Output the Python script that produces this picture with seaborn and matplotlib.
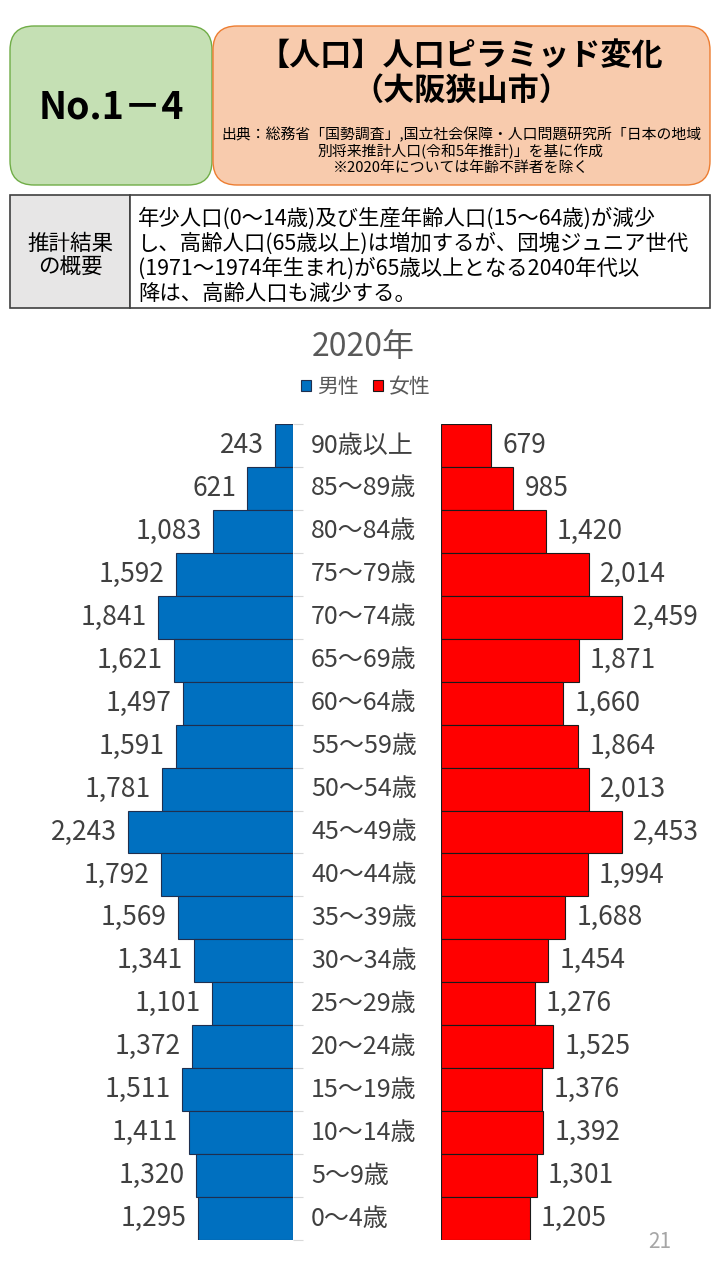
import matplotlib
matplotlib.use("Agg")
from matplotlib import pyplot as plt
from matplotlib import transforms
from matplotlib.patches import FancyBboxPatch, Rectangle, Patch
import numpy as np
import pandas as pd
import seaborn as sns

# 2020年 人口ピラミッド (大阪狭山市), 上から高齢順
ages = ["90歳以上", "85～89歳", "80～84歳", "75～79歳", "70～74歳", "65～69歳",
        "60～64歳", "55～59歳", "50～54歳", "45～49歳", "40～44歳", "35～39歳",
        "30～34歳", "25～29歳", "20～24歳", "15～19歳", "10～14歳", "5～9歳", "0～4歳"]
male = [243, 621, 1083, 1592, 1841, 1621, 1497, 1591, 1781, 2243,
        1792, 1569, 1341, 1101, 1372, 1511, 1411, 1320, 1295]
female = [679, 985, 1420, 2014, 2459, 1871, 1660, 1864, 2013, 2453,
          1994, 1688, 1454, 1276, 1525, 1376, 1392, 1301, 1205]

title = "2020年"
summary = ("年少人口(0～14歳)及び生産年齢人口(15～64歳)が減少\n"
           "し、高齢人口(65歳以上)は増加するが、団塊ジュニア世代\n"
           "(1971～1974年生まれ)が65歳以上となる2040年代以\n"
           "降は、高齢人口も減少する。")
source = ("出典：総務省「国勢調査」,国立社会保障・人口問題研究所「日本の地域\n"
          "別将来推計人口(令和5年推計)」を基に作成\n"
          "※2020年については年齢不詳者を除く")

BLUE = "#0070c0"
RED = "#ff0000"
GREY = "#404040"

sns.set_style("white")
plt.rcParams["font.family"] = ["Noto Sans CJK JP", "DejaVu Sans"]

df = pd.DataFrame({"age": ages, "male": male, "female": female})

W, H = 720, 1280
fig = plt.figure(figsize=(W / 100, H / 100), dpi=100)

# header / table layer in pixel coordinates
bg = fig.add_axes([0, 0, 1, 1])
bg.set_xlim(0, W)
bg.set_ylim(H, 0)
bg.axis("off")

bg.add_patch(FancyBboxPatch((10, 26), 202, 159, boxstyle="round,pad=0,rounding_size=24",
                            fc="#c5e0b4", ec="#70ad47", lw=1))
bg.add_patch(FancyBboxPatch((213, 26), 497, 159, boxstyle="round,pad=0,rounding_size=24",
                            fc="#f8cbad", ec="#ed7d31", lw=1))
bg.text(111, 107, "No.1－4", ha="center", va="center", fontsize=27, fontweight="bold", color="black")
bg.text(461, 56, "【人口】人口ピラミッド変化", ha="center", va="center", fontsize=22.4,
        fontweight="bold", color="black")
bg.text(461, 91, "（大阪狭山市）", ha="center", va="center", fontsize=22.4,
        fontweight="bold", color="black")
bg.text(461, 151, source, ha="center", va="center", fontsize=10.7, color="black", linespacing=1.1)

bg.add_patch(Rectangle((10, 195), 120, 113, fc="#e7e6e6", ec=GREY, lw=1.2))
bg.add_patch(Rectangle((130, 195), 580, 113, fc="white", ec=GREY, lw=1.2))
bg.text(70, 256, "推計結果\nの概要", ha="center", va="center", fontsize=15.5, color="black",
        linespacing=1.15)
bg.text(138, 256, summary, ha="left", va="center", fontsize=15.4, color="black", linespacing=1.15)

# pyramid
scale = 0.0736  # px per person
top, bottom = 424, 1240
axm = fig.add_axes([0, 1 - bottom / H, 293 / W, (bottom - top) / H])
axf = fig.add_axes([441 / W, 1 - bottom / H, (W - 441) / W, (bottom - top) / H])

sns.barplot(data=df, x="male", y="age", order=ages, orient="h", ax=axm, color=BLUE,
            width=1, edgecolor="#1f2f4f", linewidth=0.8, saturation=1)
sns.barplot(data=df, x="female", y="age", order=ages, orient="h", ax=axf, color=RED,
            width=1, edgecolor="#1a1a1a", linewidth=0.8, saturation=1)

axm.set_xlim(293 / scale, 0)
axf.set_xlim(0, (W - 441) / scale)
for ax in (axm, axf):
    ax.set_ylim(len(ages) - 0.5, -0.5)
    ax.set_xticks([])
    ax.set_xlabel("")
    ax.set_ylabel("")
    ax.set_yticks([])
    sns.despine(ax=ax, left=True, bottom=True)

# light category tick marks between bars on the male side
axm.yaxis.tick_right()
axm.set_yticks(np.arange(len(ages) + 1) - 0.5)
axm.set_yticklabels([])
axm.tick_params(axis="y", right=True, length=7, width=0.8, color="#d9d9d9", direction="out")

axm.bar_label(axm.containers[0], labels=[f"{v:,}" for v in male], padding=8,
              fontsize=19, color=GREY)
axf.bar_label(axf.containers[0], labels=[f"{v:,}" for v in female], padding=8,
              fontsize=19, color=GREY)

trans = transforms.blended_transform_factory(fig.transFigure, axf.transData)
for i, a in enumerate(ages):
    axf.text(311 / W, i, a, transform=trans, ha="left", va="center", fontsize=18,
             color=GREY, clip_on=False)

fig.text(363 / W, 1 - 347 / H, title, ha="center", va="center", fontsize=23, color="#595959")
fig.legend(handles=[Patch(fc=BLUE, ec="#1f2f4f", lw=0.8), Patch(fc=RED, ec="#1a1a1a", lw=0.8)],
           labels=["男性", "女性"], loc="center", bbox_to_anchor=(366 / W, 1 - 387 / H),
           ncol=2, frameon=False, handlelength=0.45, handleheight=0.45, handletextpad=0.3,
           columnspacing=0.7, fontsize=15, labelcolor="#595959")

fig.text(660 / W, 1 - 1242 / H, "21", ha="center", va="center", fontsize=15, color="#a6a6a6")

fig.savefig("out.png", dpi=100)
